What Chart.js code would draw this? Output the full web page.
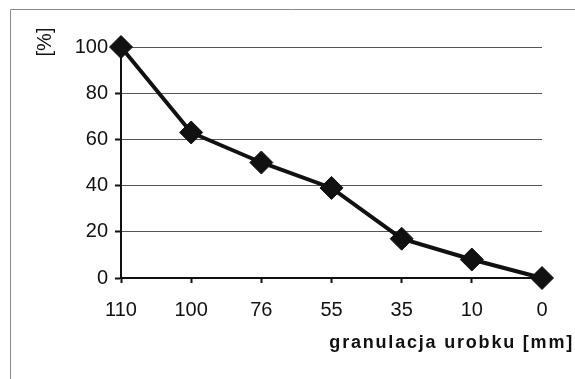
<!DOCTYPE html>
<html>
<head>
<meta charset="utf-8">
<script src="https://cdn.jsdelivr.net/npm/chart.js@4/dist/chart.umd.min.js"></script>
<style>
  html, body { margin: 0; padding: 0; background: #fff; }
  #wrap { width: 575px; height: 379px; position: relative; }
</style>
</head>
<body>
<div id="wrap"><canvas id="c" width="575" height="379"></canvas></div>
<script>
// Grain size classes [mm] and cumulative share [%]
const categories = ['110', '100', '76', '55', '35', '10', '0'];
const shares = [100, 63, 50, 39, 17, 8, 0];
const yTicks = [0, 20, 40, 60, 80, 100];
const yTitle = '[%]';
const xTitle = 'granulacja urobku [mm]';

const FONT = '"Liberation Sans", Arial, sans-serif';

// Outer frame plus the two axis titles
const decorations = {
  id: 'decorations',
  beforeDraw(chart) {
    const ctx = chart.ctx;
    ctx.save();
    ctx.fillStyle = '#fff';
    ctx.fillRect(0, 0, chart.width, chart.height);
    ctx.strokeStyle = '#8a8a8a';
    ctx.lineWidth = 1;
    ctx.beginPath();
    ctx.moveTo(10.5, 379);
    ctx.lineTo(10.5, 9.5);
    ctx.lineTo(575, 9.5);
    ctx.stroke();
    ctx.restore();
  },
  afterDraw(chart) {
    const ctx = chart.ctx;
    ctx.save();
    ctx.fillStyle = '#111';
    ctx.font = '20px ' + FONT;
    ctx.translate(45, 42);
    ctx.rotate(-Math.PI / 2);
    ctx.textAlign = 'center';
    ctx.textBaseline = 'middle';
    ctx.fillText(yTitle, 0, 0);
    ctx.restore();

    ctx.save();
    ctx.fillStyle = '#111';
    ctx.font = 'bold 18px ' + FONT;
    ctx.textAlign = 'right';
    ctx.textBaseline = 'middle';
    if ('letterSpacing' in ctx) ctx.letterSpacing = '1.8px';
    ctx.fillText(xTitle, 574, 343);
    ctx.restore();
  }
};

new Chart(document.getElementById('c'), {
  type: 'line',
  data: {
    labels: categories,
    datasets: [{
      data: shares,
      borderColor: '#111',
      backgroundColor: '#111',
      borderWidth: 4,
      pointStyle: 'rectRot',
      pointRadius: 11.5,
      pointHoverRadius: 11.5,
      pointBackgroundColor: '#111',
      pointBorderColor: '#111',
      pointBorderWidth: 1,
      tension: 0,
      clip: false
    }]
  },
  options: {
    responsive: false,
    animation: false,
    devicePixelRatio: 1,
    layout: { padding: { left: 0, top: 47, right: 33, bottom: 0 } },
    plugins: { legend: { display: false }, tooltip: { enabled: false } },
    scales: {
      x: {
        offset: false,
        grid: {
          drawOnChartArea: false,
          drawTicks: true,
          tickLength: 5,
          tickColor: '#111',
          tickWidth: 2
        },
        border: { display: true, color: '#111', width: 2 },
        ticks: {
          color: '#111',
          font: { family: FONT, size: 20 },
          padding: 15,
          maxRotation: 0,
          autoSkip: false
        },
        afterFit(scale) { scale.height = 101; }
      },
      y: {
        min: 0,
        max: 100,
        afterBuildTicks(scale) { scale.ticks = yTicks.map(v => ({ value: v })); },
        grid: {
          color: '#555',
          lineWidth: 1,
          drawTicks: true,
          tickLength: 6,
          tickColor: '#111',
          tickWidth: 2
        },
        border: { display: true, color: '#111', width: 2 },
        ticks: {
          color: '#111',
          font: { family: FONT, size: 20 },
          padding: 7
        },
        afterFit(scale) { scale.width = 121; }
      }
    }
  },
  plugins: [decorations]
});
</script>
</body>
</html>
